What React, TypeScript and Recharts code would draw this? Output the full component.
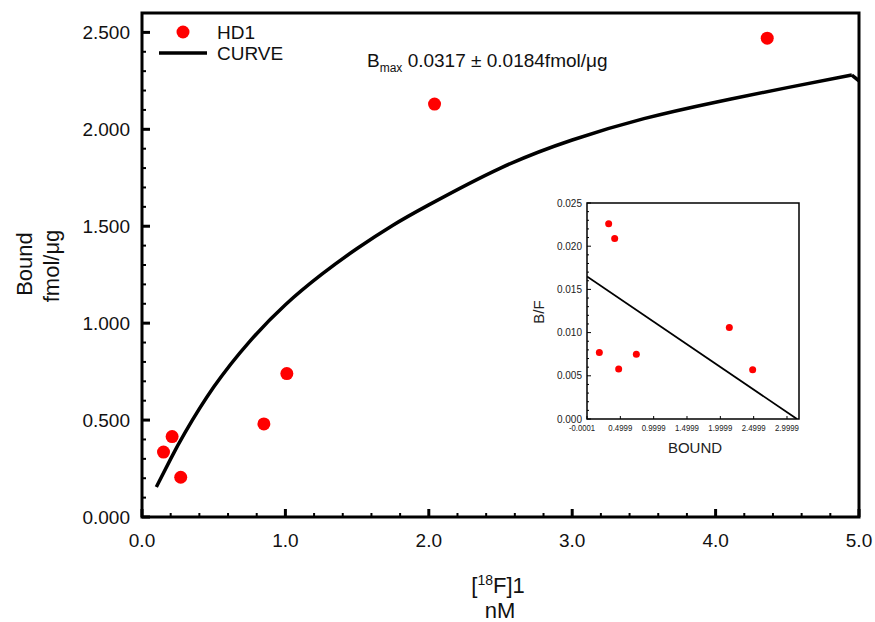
import * as React from 'react';
import { ComposedChart, Scatter, Line, XAxis, YAxis, ReferenceArea } from 'recharts';

const FONT = '"Liberation Sans", Arial, sans-serif';

// main plot: HD1 saturation binding
const hd1X = [0.15, 0.21, 0.27, 0.85, 1.01, 2.04, 4.36];
const hd1Y = [0.335, 0.415, 0.205, 0.48, 0.74, 2.13, 2.47];
const curveX = [0.1, 0.2, 0.3, 0.5, 0.75, 1.0, 1.25, 1.5, 1.75, 2.0, 2.5, 3.0, 3.5, 4.0, 4.5, 4.95];
const curveY = [0.155, 0.3, 0.435, 0.67, 0.905, 1.095, 1.25, 1.385, 1.505, 1.61, 1.8, 1.945, 2.055, 2.14, 2.215, 2.28];
// little drop at the right edge of the fitted curve
const tailX = [4.95, 5.0];
const tailY = [2.28, 2.25];

const xMajor = [0, 1, 2, 3, 4, 5];
const xMinor = [0.2, 0.4, 0.6, 0.8, 1.2, 1.4, 1.6, 1.8, 2.2, 2.4, 2.6, 2.8, 3.2, 3.4, 3.6, 3.8, 4.2, 4.4, 4.6, 4.8];
const yMajor = [0, 0.5, 1, 1.5, 2, 2.5];
const yMinor = [0.1, 0.2, 0.3, 0.4, 0.6, 0.7, 0.8, 0.9, 1.1, 1.2, 1.3, 1.4, 1.6, 1.7, 1.8, 1.9, 2.1, 2.2, 2.3, 2.4];

// inset: Scatchard plot
const bfX = [0.185, 0.325, 0.415, 0.475, 0.74, 2.135, 2.485];
const bfY = [0.0077, 0.0226, 0.0209, 0.0058, 0.0075, 0.0106, 0.0057];
const fitX = [-0.0001, 3.15];
const fitY = [0.0165, 0];
const insetXMajor = [-0.0001, 0.4999, 0.9999, 1.4999, 1.9999, 2.4999, 2.9999];
const insetYMajor = [0, 0.005, 0.01, 0.015, 0.02, 0.025];
const insetYMinor = [0.001, 0.002, 0.003, 0.004, 0.006, 0.007, 0.008, 0.009, 0.011, 0.012, 0.013, 0.014, 0.016, 0.017, 0.018, 0.019, 0.021, 0.022, 0.023, 0.024];

const hd1 = hd1X.map((x, i) => ({ x, y: hd1Y[i] }));
const curve = curveX.map((x, i) => ({ x, y: curveY[i] }));
const tail = tailX.map((x, i) => ({ x, y: tailY[i] }));
const bf = bfX.map((x, i) => ({ x, y: bfY[i] }));
const fit = fitX.map((x, i) => ({ x, y: fitY[i] }));

const mainXTick = (p: any) => {
  const v = p.payload.value;
  const major = xMajor.includes(v);
  return (
    <g>
      <line x1={p.x} x2={p.x} y1={p.y} y2={p.y - (major ? 8 : 4)} stroke="#000" strokeWidth={major ? 3 : 2} />
      {major && (
        <text x={p.x} y={p.y + 30} textAnchor="middle" fontSize={19} fontFamily={FONT} fill="#111">
          {v.toFixed(1)}
        </text>
      )}
    </g>
  );
};

const mainYTick = (p: any) => {
  const v = p.payload.value;
  const major = yMajor.includes(v);
  return (
    <g>
      <line x1={p.x} x2={p.x + (major ? 8 : 4)} y1={p.y} y2={p.y} stroke="#000" strokeWidth={major ? 3 : 2} />
      {major && (
        <text x={p.x - 12} y={p.y + 7} textAnchor="end" fontSize={19} fontFamily={FONT} fill="#111">
          {v.toFixed(3)}
        </text>
      )}
    </g>
  );
};

const insetXTick = (p: any) => {
  const v = p.payload.value;
  const neg = v < 0;
  return (
    <g>
      <line x1={p.x} x2={p.x} y1={p.y} y2={p.y - 3} stroke="#000" strokeWidth={1} />
      <text
        x={p.x - (neg ? 5 : 0)}
        y={p.y + 12}
        textAnchor="middle"
        fontSize={8.5}
        fontFamily={FONT}
        fill="#222"
        textLength={neg ? 26 : 24}
        lengthAdjust="spacingAndGlyphs"
      >
        {v.toFixed(4)}
      </text>
    </g>
  );
};

const insetYTick = (p: any) => {
  const v = p.payload.value;
  const major = insetYMajor.includes(v);
  return (
    <g>
      <line x1={p.x} x2={p.x + (major ? 4 : 2)} y1={p.y} y2={p.y} stroke="#000" strokeWidth={1} />
      {major && (
        <text x={p.x - 5} y={p.y + 3.5} textAnchor="end" fontSize={10} fontFamily={FONT} fill="#222">
          {v.toFixed(3)}
        </text>
      )}
    </g>
  );
};

const Dot = (r: number) => (p: any) => <circle cx={p.cx} cy={p.cy} r={r} fill="#ff0000" />;

export default function App() {
  return (
    <div style={{ position: 'absolute', left: 0, top: 0, width: 875, height: 622, background: '#fff', fontFamily: FONT }}>
      <ComposedChart width={875} height={622} margin={{ top: 13, right: 16, left: 0, bottom: 0 }}>
        <XAxis
          dataKey="x"
          type="number"
          domain={[0, 5]}
          ticks={[...xMajor, ...xMinor]}
          interval={0}
          height={105}
          tickSize={0}
          tickMargin={0}
          axisLine={false}
          tickLine={false}
          tick={mainXTick}
          allowDataOverflow
        />
        <YAxis
          dataKey="y"
          type="number"
          domain={[0, 2.6]}
          ticks={[...yMajor, ...yMinor]}
          interval={0}
          width={142}
          tickSize={0}
          tickMargin={0}
          axisLine={false}
          tickLine={false}
          tick={mainYTick}
          allowDataOverflow
        />
        <ReferenceArea x1={0} x2={5} y1={0} y2={2.6} fill="none" stroke="#000" strokeWidth={3} />
        <Line data={curve} dataKey="y" type="natural" stroke="#000" strokeWidth={3.5} dot={false} isAnimationActive={false} />
        <Line data={tail} dataKey="y" type="linear" stroke="#000" strokeWidth={3.5} dot={false} isAnimationActive={false} />
        <Scatter data={hd1} dataKey="y" shape={Dot(6.5)} isAnimationActive={false} />
      </ComposedChart>

      <svg width={875} height={622} style={{ position: 'absolute', left: 0, top: 0, pointerEvents: 'none' }}>
        {/* legend */}
        <circle cx={183} cy={32} r={6.5} fill="#ff0000" />
        <text x={217} y={39} fontSize={19} fontFamily={FONT} fill="#111">HD1</text>
        <line x1={159} x2={207} y1={53} y2={53} stroke="#000" strokeWidth={3.5} />
        <text x={217} y={60} fontSize={19} fontFamily={FONT} fill="#111">CURVE</text>
        {/* annotation */}
        <text x={367} y={67} fontSize={19} fontFamily={FONT} fill="#111">
          B<tspan fontSize={12} dy={5}>max</tspan>
          <tspan dy={-5}> 0.0317 ± 0.0184fmol/μg</tspan>
        </text>
        {/* axis titles */}
        <text transform="translate(32,264) rotate(-90)" textAnchor="middle" fontSize={22} fontFamily={FONT} fill="#111">Bound</text>
        <text transform="translate(59,266) rotate(-90)" textAnchor="middle" fontSize={22} fontFamily={FONT} fill="#111">fmol/μg</text>
        <text x={498} y={593} textAnchor="middle" fontSize={22} fontFamily={FONT} fill="#111">
          [<tspan fontSize={14} dy={-8}>18</tspan><tspan dy={8}>F]1</tspan>
        </text>
        <text x={500} y={618} textAnchor="middle" fontSize={22} fontFamily={FONT} fill="#111">nM</text>
      </svg>

      <div style={{ position: 'absolute', left: 520, top: 190, width: 290, height: 270 }}>
        <ComposedChart width={290} height={270} margin={{ top: 13, right: 11, left: 0, bottom: 0 }}>
          <XAxis
            dataKey="x"
            type="number"
            domain={[-0.0001, 3.18]}
            ticks={insetXMajor}
            interval={0}
            height={41}
            tickSize={0}
            tickMargin={0}
            axisLine={false}
            tickLine={false}
            tick={insetXTick}
            allowDataOverflow
          />
          <YAxis
            dataKey="y"
            type="number"
            domain={[0, 0.025]}
            ticks={[...insetYMajor, ...insetYMinor]}
            interval={0}
            width={67}
            tickSize={0}
            tickMargin={0}
            axisLine={false}
            tickLine={false}
            tick={insetYTick}
            allowDataOverflow
          />
          <ReferenceArea x1={-0.0001} x2={3.18} y1={0} y2={0.025} fill="#fff" fillOpacity={0} stroke="#000" strokeWidth={1.5} />
          <Line data={fit} dataKey="y" type="linear" stroke="#000" strokeWidth={1.8} dot={false} isAnimationActive={false} />
          <Scatter data={bf} dataKey="y" shape={Dot(3.5)} isAnimationActive={false} />
        </ComposedChart>
        <svg width={290} height={270} style={{ position: 'absolute', left: 0, top: 0, pointerEvents: 'none' }}>
          <text transform="translate(24,122) rotate(-90)" textAnchor="middle" fontSize={15} fontFamily={FONT} fill="#222">B/F</text>
          <text x={175} y={263} textAnchor="middle" fontSize={15} fontFamily={FONT} fill="#222">BOUND</text>
        </svg>
      </div>
    </div>
  );
}
